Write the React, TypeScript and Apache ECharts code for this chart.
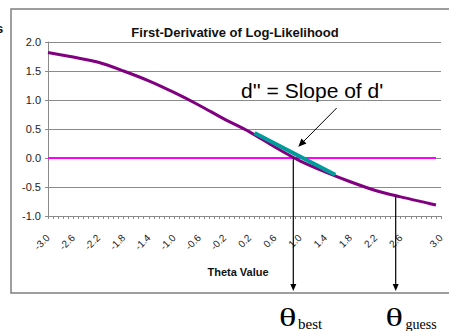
import React, { useEffect, useRef } from "react";
import * as echarts from "echarts";

// Category slots along the theta axis (labels shown only at TICK_INDEX)
const CATEGORY_COUNT = 79;
const TICK_INDEX = [0, 5, 10, 15, 20, 25, 30, 35, 40, 45, 50, 55, 60, 65, 70, 78];
const TICK_LABELS = ["-3.0", "-2.6", "-2.2", "-1.8", "-1.4", "-1.0", "-0.6", "-0.2", "0.2", "0.6", "1.0", "1.4", "1.8", "2.2", "2.6", "3.0"];

// First derivative of log-likelihood
const CURVE_INDEX = [0, 5, 10, 15, 20, 25, 30, 35, 40, 45, 50, 55, 60, 65, 70, 75, 77];
const CURVE_VALUES = [1.82, 1.74, 1.65, 1.5, 1.33, 1.13, 0.91, 0.67, 0.45, 0.19, -0.05, -0.24, -0.41, -0.56, -0.67, -0.77, -0.81];

// Zero reference line
const ZERO_INDEX = [0, 77];
const ZERO_VALUES = [0, 0];

// Tangent (slope) segment
const TANGENT_INDEX = [41, 57];
const TANGENT_VALUES = [0.43, -0.29];

const Y_MIN = -1;
const Y_MAX = 2;
const Y_STEP = 0.5;

const pairs = (xs: number[], ys: number[]) => xs.map((x, i) => [x, ys[i]]);

export default function App() {
  const ref = useRef<HTMLDivElement>(null);
  useEffect(() => {
    document.body.style.margin = "0";
    const chart = echarts.init(ref.current!, null, { renderer: "svg" });
    const categories = Array.from({ length: CATEGORY_COUNT }, (_, i) => String(i));
    const labelFor = (i: number) => {
      const k = TICK_INDEX.indexOf(i);
      return k >= 0 ? TICK_LABELS[k] : "";
    };
    const gray = "#8a8a8a";
    const arrowHead = (tx: number, ty: number, dx: number, dy: number, len: number, hw: number) => {
      const n = Math.hypot(dx, dy);
      const ux = dx / n, uy = dy / n;
      const bx = tx - ux * len, by = ty - uy * len;
      const px = -uy, py = ux;
      return [
        [tx, ty],
        [bx + px * hw, by + py * hw],
        [bx - px * hw, by - py * hw],
      ];
    };
    chart.setOption({
      animation: false,
      backgroundColor: "#ffffff",
      grid: { left: 48, top: 42, width: 393, height: 174, containLabel: false },
      xAxis: {
        type: "category",
        data: categories,
        boundaryGap: false,
        axisLine: { show: true, onZero: false, lineStyle: { color: gray, width: 1 } },
        axisTick: { show: true, interval: 0, length: 3, lineStyle: { color: gray } },
        splitLine: { show: false },
        axisLabel: {
          interval: (i: number) => TICK_INDEX.indexOf(i) >= 0,
          rotate: 45,
          margin: 20,
          fontSize: 10,
          color: "#222",
          fontFamily: "Liberation Sans",
          formatter: (_v: string, i: number) => labelFor(i),
        },
      },
      yAxis: {
        type: "value",
        min: Y_MIN,
        max: Y_MAX,
        interval: Y_STEP,
        axisLine: { show: true, lineStyle: { color: gray, width: 1 } },
        axisTick: { show: true, length: 3, lineStyle: { color: gray } },
        splitLine: { show: true, lineStyle: { color: gray, width: 1 } },
        axisLabel: {
          fontSize: 11,
          color: "#222",
          margin: 7,
          fontFamily: "Liberation Sans",
          formatter: (v: number) => v.toFixed(1),
        },
      },
      series: [
        {
          type: "line",
          data: pairs(ZERO_INDEX, ZERO_VALUES),
          symbol: "none",
          lineStyle: { color: "#ff00ff", width: 2 },
          z: 2,
        },
        {
          type: "line",
          data: pairs(CURVE_INDEX, CURVE_VALUES),
          symbol: "none",
          smooth: 0.3,
          lineStyle: { color: "#800080", width: 3 },
          z: 3,
        },
        {
          type: "line",
          data: pairs(TANGENT_INDEX, TANGENT_VALUES),
          symbol: "none",
          lineStyle: { color: "#009b9b", width: 4 },
          z: 4,
        },
      ],
      graphic: [
        {
          type: "rect",
          shape: { x: 11, y: 9, width: 470, height: 284 },
          style: { fill: "none", stroke: "#7f7f7f", lineWidth: 1.5 },
          z: 0,
        },
        {
          type: "text",
          x: -4,
          y: 28,
          style: { text: "s", fontSize: 13, fontWeight: "bold", fontFamily: "Liberation Sans", fill: "#111", verticalAlign: "middle" },
        },
        {
          type: "text",
          x: 235,
          y: 32,
          style: {
            text: "First-Derivative of Log-Likelihood",
            fontSize: 13,
            fontWeight: "bold",
            fontFamily: "Liberation Sans",
            fill: "#111",
            align: "center",
            verticalAlign: "middle",
          },
        },
        {
          type: "text",
          x: 238,
          y: 272,
          style: {
            text: "Theta Value",
            fontSize: 11,
            fontWeight: "bold",
            fontFamily: "Liberation Sans",
            fill: "#111",
            align: "center",
            verticalAlign: "middle",
          },
        },
        {
          type: "text",
          x: 241,
          y: 90,
          style: {
            text: "d'' = Slope of d'",
            fontSize: 21,
            fontFamily: "Liberation Sans",
            fill: "#000",
            align: "left",
            verticalAlign: "middle",
          },
          z: 10,
        },
        {
          type: "line",
          shape: { x1: 336.7, y1: 108, x2: 302, y2: 143 },
          style: { stroke: "#000", lineWidth: 1 },
          z: 10,
        },
        {
          type: "polygon",
          shape: { points: arrowHead(298.3, 146.7, -38.4, 38.7, 8, 3.5) },
          style: { fill: "#000" },
          z: 10,
        },
        {
          type: "line",
          shape: { x1: 293.3, y1: 157, x2: 293.3, y2: 284 },
          style: { stroke: "#000", lineWidth: 1.2 },
          z: 10,
        },
        {
          type: "polygon",
          shape: { points: arrowHead(293.3, 291, 0, 1, 7, 3) },
          style: { fill: "#000" },
          z: 10,
        },
        {
          type: "line",
          shape: { x1: 395.7, y1: 196, x2: 395.7, y2: 284 },
          style: { stroke: "#000", lineWidth: 1.2 },
          z: 10,
        },
        {
          type: "polygon",
          shape: { points: arrowHead(395.7, 291, 0, 1, 7, 3) },
          style: { fill: "#000" },
          z: 10,
        },
        {
          type: "text",
          x: 279,
          y: 317,
          scaleX: 1.4,
          style: { text: "θ", fontSize: 26, fontFamily: "Liberation Serif", fill: "#000", verticalAlign: "middle" },
        },
        {
          type: "text",
          x: 298,
          y: 324,
          style: { text: "best", fontSize: 15, fontFamily: "Liberation Serif", fill: "#000", verticalAlign: "middle" },
        },
        {
          type: "text",
          x: 385.5,
          y: 317,
          scaleX: 1.4,
          style: { text: "θ", fontSize: 26, fontFamily: "Liberation Serif", fill: "#000", verticalAlign: "middle" },
        },
        {
          type: "text",
          x: 405.5,
          y: 324,
          style: { text: "guess", fontSize: 14, fontFamily: "Liberation Serif", fill: "#000", verticalAlign: "middle" },
        },
      ],
    });
    return () => chart.dispose();
  }, []);
  return (
    <div
      ref={ref}
      style={{ position: "fixed", left: 0, top: 0, width: 449, height: 331, background: "#fff" }}
    />
  );
}
